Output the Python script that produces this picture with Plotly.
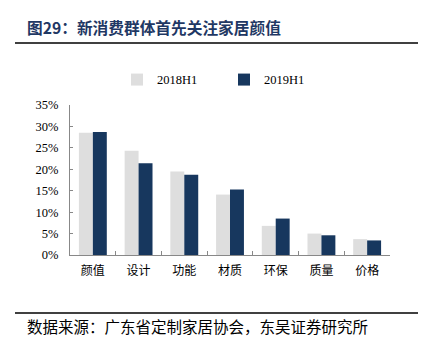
import plotly.graph_objects as go

categories = ["颜值", "设计", "功能", "材质", "环保", "质量", "价格"]
s2018 = [28.5, 24.3, 19.5, 14.1, 6.8, 5.0, 3.7]
s2019 = [28.7, 21.4, 18.7, 15.3, 8.5, 4.6, 3.4]
yticks = [0, 5, 10, 15, 20, 25, 30, 35]
ytext = [f"{v}%" for v in yticks]

FONT = "Liberation Serif, Noto Sans CJK SC, serif"
CJK = "Noto Sans CJK SC, sans-serif"

fig = go.Figure()
fig.add_trace(go.Bar(name="2018H1", x=categories, y=s2018, marker=dict(color="#dedede", line=dict(width=0))))
fig.add_trace(go.Bar(name="2019H1", x=categories, y=s2019, marker=dict(color="#17375e", line=dict(width=0))))

fig.update_layout(
    width=436, height=348,
    margin=dict(l=70, r=46, t=105, b=93),
    paper_bgcolor="white", plot_bgcolor="white",
    barmode="group", bargap=0.39, bargroupgap=0,
    font=dict(family=FONT, size=12, color="#000"),
    showlegend=True,
    legend=dict(orientation="h", x=(117-70)/320, xanchor="left", y=1.067, yanchor="bottom",
                font=dict(family=FONT, size=12.5), entrywidth=62, entrywidthmode="pixels",
                itemwidth=30, bgcolor="rgba(0,0,0,0)"),
    xaxis=dict(showline=True, linecolor="#888", linewidth=1, ticks="inside",
               ticklen=4, tickcolor="#888", tickson="boundaries", ticklabelstandoff=5,
               tickfont=dict(family=CJK, size=12), showgrid=False),
    yaxis=dict(range=[0, 35], tickvals=yticks, ticktext=ytext, showline=True,
               linecolor="#888", linewidth=1, ticks="inside", ticklen=3, tickcolor="#888",
               ticklabelstandoff=8,
               showgrid=False, zeroline=False, tickfont=dict(family=FONT, size=12.5)),
)

# header title and rules
fig.add_annotation(text="<b>图29：新消费群体首先关注家居颜值</b>", xref="paper", yref="paper",
                   x=-45/320, y=(348-93-28)/ (348-105-93), xanchor="left", yanchor="middle",
                   showarrow=False, font=dict(family=CJK, size=15.7, color="#1f3864"))
fig.add_shape(type="line", xref="paper", yref="paper",
              x0=(15-70)/320, x1=(418-70)/320, y0=(255-43)/150, y1=(255-43)/150,
              line=dict(color="#000", width=1.5))
fig.add_shape(type="line", xref="paper", yref="paper",
              x0=(15-70)/320, x1=(418-70)/320, y0=(255-313)/150, y1=(255-313)/150,
              line=dict(color="#000", width=1.5))
fig.add_annotation(text="数据来源：广东省定制家居协会，东吴证券研究所", xref="paper", yref="paper",
                   x=(25-70)/320, y=(255-326)/150, xanchor="left", yanchor="middle",
                   showarrow=False, font=dict(family=CJK, size=15.5, color="#000"))

fig.write_html("out.html")
